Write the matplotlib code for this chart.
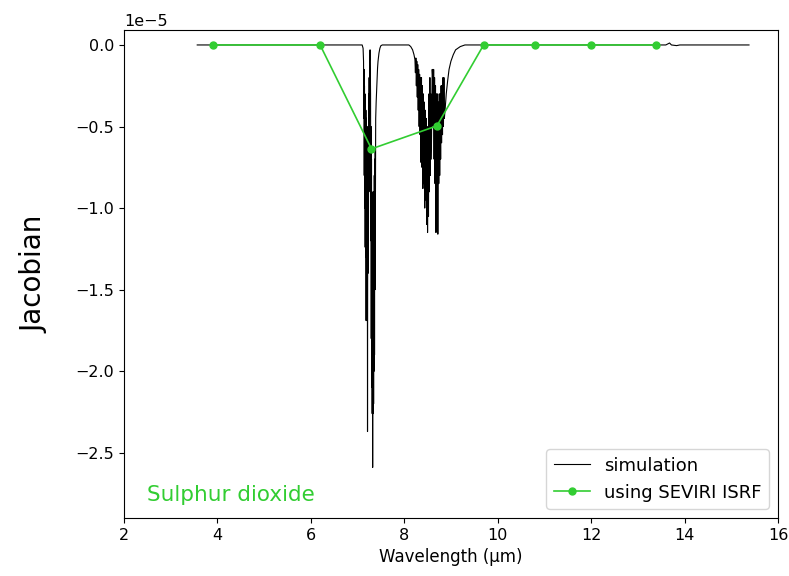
import numpy as np
import matplotlib
matplotlib.use('Agg')
import matplotlib.pyplot as plt

# simulated SO2 jacobian, values in units of 1e-5
sim_wavelength = [3.57, 5.00, 7.00, 7.10, 7.12, 7.13, 7.135, 7.14, 7.145, 7.15, 7.155,
                  7.16, 7.165, 7.17, 7.175, 7.18, 7.185, 7.19, 7.195, 7.20, 7.205,
                  7.21, 7.215, 7.22, 7.225, 7.23, 7.235, 7.24, 7.245, 7.25, 7.255,
                  7.26, 7.27, 7.28, 7.285, 7.29, 7.295, 7.30, 7.305, 7.31, 7.315,
                  7.32, 7.325, 7.33, 7.335, 7.34, 7.345, 7.35, 7.355, 7.36, 7.365,
                  7.37, 7.375, 7.38, 7.385, 7.39, 7.40, 7.41, 7.42, 7.43, 7.44,
                  7.46, 7.48, 7.50, 7.53,
                  8.10, 8.14, 8.18, 8.21, 8.23, 8.24, 8.25, 8.26, 8.27, 8.28, 8.29,
                  8.30, 8.31, 8.32, 8.33, 8.34, 8.35, 8.36, 8.37, 8.38, 8.39, 8.40,
                  8.41, 8.42, 8.43, 8.44, 8.45, 8.46, 8.47, 8.48, 8.49, 8.50, 8.51,
                  8.52, 8.53, 8.54, 8.55, 8.56, 8.57, 8.58, 8.59, 8.60, 8.61, 8.62,
                  8.63, 8.64, 8.65, 8.66, 8.67, 8.68, 8.69, 8.70, 8.71, 8.72, 8.73,
                  8.74, 8.75, 8.76, 8.77, 8.78, 8.79, 8.80, 8.81, 8.82, 8.83, 8.84,
                  8.85, 8.86, 8.88, 8.90, 8.93, 8.96, 9.00, 9.05, 9.10, 9.20, 9.30,
                  11.0, 13.60, 13.68, 13.72, 13.83, 13.90, 15.38]
sim_jacobian = [0.0, 0.0, 0.0, 0.0, -0.02, -0.10, -0.45, -0.15, -0.80, -0.25, -1.00,
                -0.30, -1.24, -0.35, -1.30, -0.40, -1.69, -0.45, -1.50, -0.50, -1.60,
                -0.60, -2.37, -0.70, -1.40, -0.50, -1.20, -0.30, -0.90, -0.20, -0.60,
                -0.10, -0.03, -0.30, -1.20, -0.50, -1.80, -0.70, -2.10, -0.90, -2.26,
                -1.00, -2.59, -1.20, -2.26, -1.00, -2.20, -0.90, -2.00, -0.80, -1.90,
                -0.70, -1.50, -0.64, -0.90, -0.45, -0.35, -0.28, -0.20, -0.14, -0.10,
                -0.05, -0.02, -0.005, 0.0,
                0.0, -0.01, -0.03, -0.06, -0.09, -0.17, -0.08, -0.25, -0.10, -0.32, -0.12,
                -0.40, -0.15, -0.50, -0.18, -0.55, -0.20, -0.72, -0.20, -0.75, -0.25, -0.88,
                -0.30, -0.85, -0.35, -1.00, -0.40, -0.95, -0.45, -1.10, -0.50, -1.15, -0.55,
                -1.05, -0.30, -0.90, -0.20, -0.80, -0.30, -0.70, -0.40, -0.15, -0.20, -0.50,
                -0.15, -0.70, -0.20, -0.85, -0.25, -1.15, -0.30, -0.90, -0.30, -1.16, -0.35,
                -0.85, -0.30, -0.80, -0.30, -0.70, -0.25, -0.60, -0.25, -0.55, -0.20, -0.50,
                -0.20, -0.45, -0.38, -0.30, -0.22, -0.15, -0.10, -0.06, -0.03, -0.01, 0.0,
                0.0, 0.0, 0.012, 0.0, -0.004, 0.0, 0.0]

# SEVIRI channel centres and convolved jacobian (1e-5)
seviri_wavelength = [3.9, 6.2, 7.3, 8.7, 9.7, 10.8, 12.0, 13.4]
seviri_jacobian = [0.0, 0.0, -0.637, -0.496, 0.0, 0.0, 0.0, 0.0]

fig = plt.figure(figsize=(7.89, 5.76), dpi=100)
ax = fig.add_axes([0.157, 0.1007, 0.829, 0.8473])

ax.plot(sim_wavelength, np.array(sim_jacobian) * 1e-5, color='black', lw=0.8,
        label='simulation')
ax.plot(seviri_wavelength, np.array(seviri_jacobian) * 1e-5, color='limegreen',
        marker='o', markersize=5, lw=1.2, label='using SEVIRI ISRF')

ax.set_xlim(2, 16)
ax.set_ylim(-2.9e-5, 0.092e-5)
ax.tick_params(labelsize=11.5)
ax.yaxis.get_offset_text().set_fontsize(11.5)
ax.set_xlabel('Wavelength (µm)', fontsize=12)
ax.set_ylabel('Jacobian', fontsize=20)
ax.yaxis.set_label_coords(-0.115, 0.5)
ax.text(0.035, 0.035, 'Sulphur dioxide', color='limegreen', fontsize=15.5,
        transform=ax.transAxes)
ax.legend(loc='lower right', fontsize=13)

fig.savefig('out.png', dpi=100)
